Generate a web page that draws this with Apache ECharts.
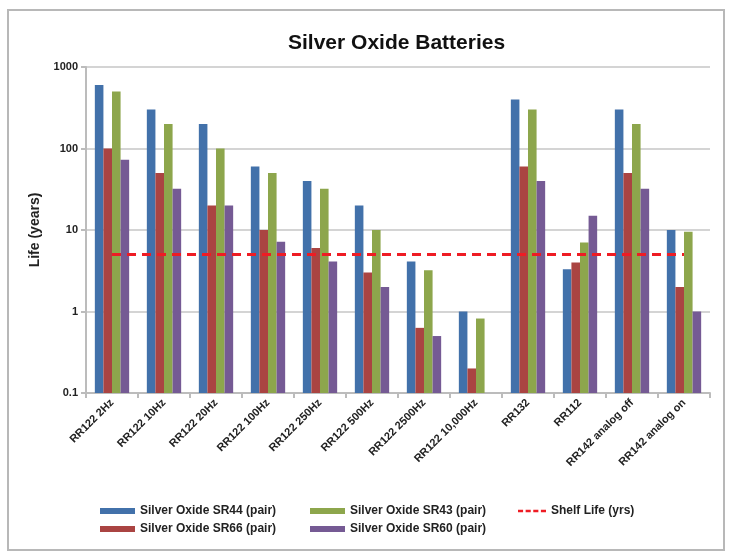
<!DOCTYPE html>
<html>
<head>
<meta charset="utf-8">
<script src="https://cdn.jsdelivr.net/npm/echarts@6/dist/echarts.min.js"></script>
<style>
  html, body { margin: 0; padding: 0; background: #fff; }
  #chart { width: 733px; height: 553px; }
</style>
</head>
<body>
<div id="chart"></div>
<script>
var categories = ["RR122 2Hz", "RR122 10Hz", "RR122 20Hz", "RR122 100Hz", "RR122 250Hz", "RR122 500Hz",
  "RR122 2500Hz", "RR122 10,000Hz", "RR132", "RR112", "RR142 analog off", "RR142 analog on"];
var sr44 = [600, 300, 200, 60, 40, 20, 4.1, 1.0, 400, 3.3, 300, 10];
var sr66 = [100, 50, 20, 10, 6, 3, 0.63, 0.2, 60, 4, 50, 2];
var sr43 = [500, 200, 100, 50, 32, 10, 3.2, 0.82, 300, 7, 200, 9.5];
var sr60 = [73, 32, 20, 7.2, 4.1, 2, 0.5, null, 40, 15, 32, 1];
var shelfLife = [5, 5, 5, 5, 5, 5, 5, 5, 5, 5, 5, 5];
var yTicks = [0.1, 1, 10, 100, 1000];

var font = "'Liberation Sans', sans-serif";
var colors = ["#4271AA", "#AA4442", "#8DA64C", "#755A94"];
var dashIcon = "path://M0,0h6v3h-6z M9,0h6v3h-6z M18,0h6v3h-6z M27,0h6v3h-6z";

var chart = echarts.init(document.getElementById("chart"));

function legendAt(name, left, top, isLine) {
  return {
    data: [{ name: name, icon: isLine ? dashIcon : "rect" }],
    left: left,
    top: top,
    itemWidth: isLine ? 28 : 35,
    itemHeight: isLine ? 3 : 6,
    itemGap: 6,
    textStyle: { fontFamily: font, fontWeight: "bold", fontSize: 12, color: "#222" }
  };
}

// bars drawn from the bottom of the log axis (0.1), as in the original
function barSeries(name, data, color, slot) {
  return {
    name: name,
    type: "custom",
    data: data.map(function (v, i) { return [i, v]; }),
    encode: { x: 0, y: 1 },
    itemStyle: { color: color },
    z: 2,
    renderItem: function (params, api) {
      var v = api.value(1);
      if (v == null || isNaN(v)) return;
      var idx = api.value(0);
      var band = api.size([1, 0])[0];
      var bw = band * 0.66 / 4;
      var top = api.coord([idx, v]);
      var base = api.coord([idx, yTicks[0]]);
      var x = top[0] - 2 * bw + slot * bw;
      return {
        type: "rect",
        shape: { x: x, y: top[1], width: bw, height: base[1] - top[1] },
        style: { fill: color }
      };
    }
  };
}

var option = {
  animation: false,
  title: {
    text: "Silver Oxide Batteries",
    left: 283,
    top: 28,
    textStyle: { fontFamily: font, fontWeight: "bold", fontSize: 21, color: "#111" }
  },
  graphic: [{
    type: "rect",
    shape: { x: 8, y: 10, width: 716, height: 540 },
    style: { fill: "none", stroke: "#b8b8b8", lineWidth: 2 },
    silent: true
  }],
  legend: [
    legendAt("Silver Oxide SR44 (pair)", 95, 500),
    legendAt("Silver Oxide SR43 (pair)", 305, 500),
    legendAt("Shelf Life (yrs)", 513, 500, true),
    legendAt("Silver Oxide SR66 (pair)", 95, 518),
    legendAt("Silver Oxide SR60 (pair)", 305, 518)
  ],
  grid: { left: 86, right: 23, top: 67, bottom: 160 },
  xAxis: {
    type: "category",
    data: categories,
    axisLine: { lineStyle: { color: "#bcbcbc", width: 2 } },
    axisTick: { show: true, length: 5, lineStyle: { color: "#bcbcbc", width: 2 } },
    axisLabel: {
      rotate: 45,
      interval: 0,
      margin: 8,
      fontFamily: font,
      fontWeight: "bold",
      fontSize: 11,
      color: "#222"
    }
  },
  yAxis: {
    type: "log",
    logBase: 10,
    min: yTicks[0],
    max: yTicks[yTicks.length - 1],
    name: "Life (years)",
    nameLocation: "middle",
    nameGap: 41,
    nameTextStyle: { fontFamily: font, fontWeight: "bold", fontSize: 14, color: "#222" },
    axisLine: { show: true, lineStyle: { color: "#bcbcbc", width: 2 } },
    axisTick: { show: true, length: 5, lineStyle: { color: "#bcbcbc", width: 2 } },
    splitLine: { show: true, lineStyle: { color: "#d4d4d4", width: 2 } },
    axisLabel: {
      fontFamily: font,
      fontWeight: "bold",
      fontSize: 11,
      color: "#222",
      margin: 8,
      formatter: function (v) { return String(+v.toPrecision(3)); }
    }
  },
  series: [
    barSeries("Silver Oxide SR44 (pair)", sr44, colors[0], 0),
    barSeries("Silver Oxide SR66 (pair)", sr66, colors[1], 1),
    barSeries("Silver Oxide SR43 (pair)", sr43, colors[2], 2),
    barSeries("Silver Oxide SR60 (pair)", sr60, colors[3], 3),
    {
      name: "Shelf Life (yrs)",
      type: "line",
      data: shelfLife,
      symbol: "none",
      z: 5,
      itemStyle: { color: "#EE1C24" },
      lineStyle: { color: "#EE1C24", width: 3, type: [9, 6] }
    }
  ]
};

chart.setOption(option);
</script>
</body>
</html>
